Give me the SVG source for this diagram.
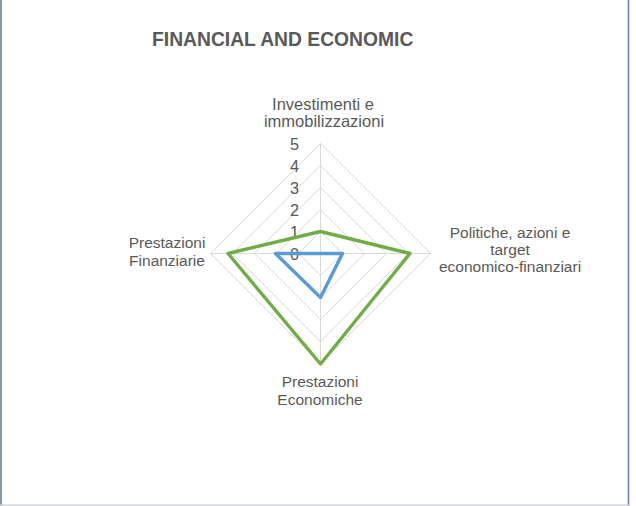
<svg xmlns="http://www.w3.org/2000/svg" width="636" height="506" viewBox="0 0 636 506">
  <style>
    .title { font-family: "Liberation Sans", Arial, sans-serif; font-weight: bold; font-size: 19.3px; fill: #595959; }
    .cat { font-family: "Liberation Sans", Arial, sans-serif; font-size: 15.5px; fill: #595959; text-anchor: middle; }
    .cat-lg { font-size: 16.5px; }
    .tick { font-family: "Liberation Sans", Arial, sans-serif; font-size: 16.3px; fill: #595959; text-anchor: end; }
    .grid { fill: none; stroke: #d9d9d9; stroke-width: 1; }
    .series { fill: none; stroke-width: 3.4; stroke-linejoin: round; }
  </style>
  <rect x="0" y="0" width="636" height="506" fill="#ffffff"/>
  <g id="frame">
    <line x1="1" y1="0" x2="1" y2="506" stroke="#6b7f99" stroke-width="1.6"/>
    <line x1="628.5" y1="0" x2="628.5" y2="506" stroke="#6b7f99" stroke-width="1.6"/>
    <line x1="0" y1="505.3" x2="629" y2="505.3" stroke="#d0d4da" stroke-width="1.4"/>
  </g>
  <text id="title" class="title" x="152" y="46">FINANCIAL AND ECONOMIC</text>
  <g id="grid">
    <polygon class="grid" points="320.5,231.5 342.5,253.5 320.5,275.5 298.5,253.5"/>
    <polygon class="grid" points="320.5,209.5 364.5,253.5 320.5,297.5 276.5,253.5"/>
    <polygon class="grid" points="320.5,187.5 386.5,253.5 320.5,319.5 254.5,253.5"/>
    <polygon class="grid" points="320.5,165.5 408.5,253.5 320.5,341.5 232.5,253.5"/>
    <polygon class="grid" points="320.5,143.5 430.5,253.5 320.5,363.5 210.5,253.5"/>
    <line class="grid" x1="320.5" y1="253.5" x2="320.5" y2="143.5"/>
    <line class="grid" x1="320.5" y1="253.5" x2="430.5" y2="253.5"/>
    <line class="grid" x1="320.5" y1="253.5" x2="320.5" y2="363.5"/>
    <line class="grid" x1="320.5" y1="253.5" x2="210.5" y2="253.5"/>
  </g>
  <g id="ticks">
    <text class="tick" x="299" y="150">5</text>
    <text class="tick" x="299" y="172">4</text>
    <text class="tick" x="299" y="194">3</text>
    <text class="tick" x="299" y="216">2</text>
    <text class="tick" x="299" y="238">1</text>
    <text class="tick" x="299" y="260">0</text>
  </g>
  <g id="connectors">
    <polygon id="series-blue" class="series" stroke="#5b9bd5" points="320.5,253.5 342.5,253.5 320.5,297.5 275.5,253.5"/>
    <polygon id="series-green" class="series" stroke="#70ad47" points="320.5,231.5 410,253.5 320.5,364 228,253.5"/>
  </g>
  <g id="label-investimenti">
    <text class="cat cat-lg" x="323" y="110">Investimenti e</text>
    <text class="cat cat-lg" x="324" y="127">immobilizzazioni</text>
  </g>
  <g id="label-politiche">
    <text class="cat" x="510" y="238">Politiche, azioni e</text>
    <text class="cat" x="510" y="255">target</text>
    <text class="cat" x="510" y="272">economico-finanziari</text>
  </g>
  <g id="label-prestazioni-economiche">
    <text class="cat" x="320" y="387">Prestazioni</text>
    <text class="cat" x="320" y="405">Economiche</text>
  </g>
  <g id="label-prestazioni-finanziarie">
    <text class="cat" x="167" y="248">Prestazioni</text>
    <text class="cat" x="167" y="266">Finanziarie</text>
  </g>
</svg>
